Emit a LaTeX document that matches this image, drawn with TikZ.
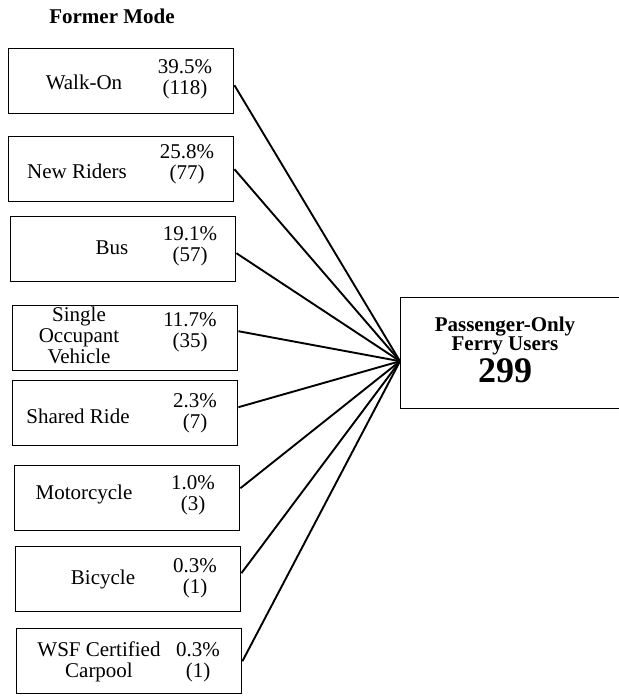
\documentclass[tikz,border=0pt]{standalone}
\usepackage{fontspec}
\setmainfont{Liberation Serif}
\usepackage{tikz}

\begin{document}
\begin{tikzpicture}[x=1pt, y=-1pt, font=\fontsize{21}{21}\selectfont,
    modebox/.style={draw, line width=1.4pt, anchor=north west, inner sep=0pt,
      minimum width=225pt, minimum height=65pt},
    pct/.style={align=center, inner sep=0pt},
    lbl/.style={align=center, inner sep=0pt},
    link/.style={line width=1.9pt}]
%      \draw [help lines] (0,0) grid [step=50pt] (619,697);
      \clip (0,0) rectangle (619,697);

      \node [font=\fontsize{21}{21}\selectfont\bfseries] (title) at (112,16) {Former Mode};

      % former modes
      \node [modebox] (m1) at (8,48) {};
      \node [lbl] (walk) at (84,82) {Walk-On};
      \node [pct] (walkpct) at (185,79) {39.5\%\\(118)};

      \node [modebox] (m2) at (8,136) {};
      \node [lbl] (newr) at (77,171) {New Riders};
      \node [pct] (newrpct) at (187,164) {25.8\%\\(77)};

      \node [modebox] (m3) at (10,216) {};
      \node [lbl] (bus) at (112,248) {Bus};
      \node [pct] (buspct) at (190,246) {19.1\%\\(57)};

      \node [modebox] (m4) at (12,305) {};
      \node [lbl] (sov) at (79,335) {Single\\Occupant\\Vehicle};
      \node [pct] (sovpct) at (190,332) {11.7\%\\(35)};

      \node [modebox] (m5) at (12,380) {};
      \node [lbl] (shared) at (78,416) {Shared Ride};
      \node [pct] (sharedpct) at (195,413) {2.3\%\\(7)};

      \node [modebox] (m6) at (14,465) {};
      \node [lbl] (moto) at (84,494) {Motorcycle};
      \node [pct] (motopct) at (193,495) {1.0\%\\(3)};

      \node [modebox] (m7) at (15,546) {};
      \node [lbl] (bike) at (103,579) {Bicycle};
      \node [pct] (bikepct) at (195,578) {0.3\%\\(1)};

      \node [modebox] (m8) at (16,628) {};
      \node [lbl] (wsf) at (99,662) {WSF Certified\\Carpool};
      \node [pct] (wsfpct) at (198,662) {0.3\%\\(1)};

      % passenger-only ferry
      \node [modebox, minimum width=240pt, minimum height=111pt] (ferry) at (400,297) {};
      \node [align=center, inner sep=0pt, font=\fontsize{21}{19}\selectfont\bfseries] (ferrytxt) at (505,350)
        {Passenger-Only\\Ferry Users\\[3pt]{\fontsize{36}{28}\selectfont 299}};
      \coordinate (hub) at ([yshift=-8pt]ferry.west);

      \draw [link] ([yshift=-4pt]m1.east) -- (hub);
      \draw [link] (m2.east) -- (hub);
      \draw [link] ([yshift=-4pt]m3.east) -- (hub);
      \draw [link] ([yshift=7pt]m4.east) -- (hub);
      \draw [link] ([yshift=6pt]m5.east) -- (hub);
      \draw [link] ([yshift=10pt]m6.east) -- (hub);
      \draw [link] ([yshift=6pt]m7.east) -- (hub);
      \draw [link] (m8.east) -- (hub);

    \end{tikzpicture}
\end{document}
